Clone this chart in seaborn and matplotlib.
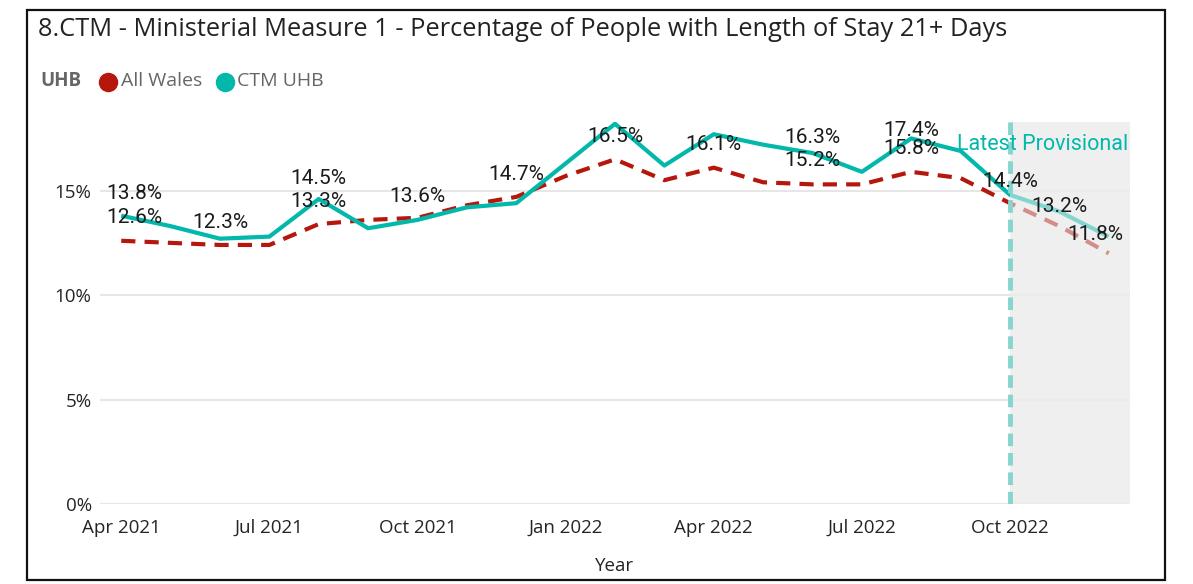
import numpy as np
import pandas as pd
import matplotlib
matplotlib.use("Agg")
import matplotlib.pyplot as plt
import seaborn as sns
from matplotlib.lines import Line2D
from matplotlib.patches import Rectangle
from matplotlib.transforms import blended_transform_factory

# ---------------- data ----------------
months = ["Apr 2021", "May 2021", "Jun 2021", "Jul 2021", "Aug 2021", "Sep 2021",
          "Oct 2021", "Nov 2021", "Dec 2021", "Jan 2022", "Feb 2022", "Mar 2022",
          "Apr 2022", "May 2022", "Jun 2022", "Jul 2022", "Aug 2022", "Sep 2022",
          "Oct 2022", "Nov 2022", "Dec 2022"]
all_wales = [12.6, 12.5, 12.4, 12.4, 13.4, 13.6, 13.7, 14.3, 14.7, 15.7, 16.5, 15.5,
             16.1, 15.4, 15.3, 15.3, 15.9, 15.6, 14.4, 13.3, 12.0]
ctm_uhb = [13.8, 13.3, 12.7, 12.8, 14.6, 13.2, 13.6, 14.2, 14.4, 16.3, 18.2, 16.2,
           17.7, 17.2, 16.8, 15.9, 17.5, 16.9, 14.8, 14.0, 12.8]
series_names = ["All Wales", "CTM UHB"]
tick_months = ["Apr 2021", "Jul 2021", "Oct 2021", "Jan 2022", "Apr 2022", "Jul 2022", "Oct 2022"]
ytick_values = [0, 5, 10, 15]
provisional_start = "Oct 2022"

# data labels: (month, text, series)
label_months = ["Apr 2021", "Apr 2021", "Jun 2021", "Aug 2021", "Aug 2021", "Oct 2021",
                "Dec 2021", "Feb 2022", "Apr 2022", "Jun 2022", "Jun 2022", "Aug 2022",
                "Aug 2022", "Oct 2022", "Nov 2022", "Dec 2022"]
label_texts = ["13.8%", "12.6%", "12.3%", "14.5%", "13.3%", "13.6%", "14.7%", "16.5%",
               "16.1%", "16.3%", "15.2%", "17.4%", "15.8%", "14.4%", "13.2%", "11.8%"]
label_series = ["CTM UHB", "All Wales", "All Wales", "CTM UHB", "All Wales", "All Wales",
                "All Wales", "All Wales", "All Wales", "CTM UHB", "All Wales", "CTM UHB",
                "All Wales", "All Wales", "All Wales", "All Wales"]
# label offsets in pixels (dx, dy) - layout only
label_dx = [13, 13, 0, 0, 0, 0, 0, 0, 0, 0, 0, 0, 0, 0, 0, -13]
label_dy = [22, 23, 22, 20, 23, 21, 22, 23, 23, 16, 24, 8, 23, 22, 20, 19]

# ---------------- frame ----------------
idx = np.arange(len(months))
df = pd.DataFrame({
    "m": np.concatenate([idx, idx]),
    "value": all_wales + ctm_uhb,
    "series": [series_names[0]] * len(months) + [series_names[1]] * len(months),
})

colors = {"All Wales": "#B5170D", "CTM UHB": "#01B8AA"}
W, H = 1193, 584
fig = plt.figure(figsize=(W / 100, H / 100), dpi=100)
sns.set_style("white")
plt.rcParams["font.family"] = ["Open Sans", "DejaVu Sans"]

ax = fig.add_axes([100 / W, 80 / H, 1030 / W, (504 - 121.7) / H])

prov_i = months.index(provisional_start)
xmin, xmax = -0.43, 20.43
ax.axvspan(prov_i, xmax, color="#efefef", zorder=0, lw=0)

sns.lineplot(data=df, x="m", y="value", hue="series", style="series",
             palette=colors, dashes={"All Wales": (3.4, 2.2), "CTM UHB": ""},
             linewidth=3, legend=False, ax=ax, zorder=2)
for ln in ax.get_lines():
    ln.set_solid_capstyle("butt")
    ln.set_dash_capstyle("butt")

# faded provisional region overlay
ax.axvspan(prov_i, xmax, color="#efefef", alpha=0.55, zorder=3, lw=0)
ax.axvline(prov_i, color="#86d5ce", lw=3.5, dashes=(2.6, 1.4), zorder=4)

ax.set_xlim(xmin, xmax)
ax.set_ylim(0, 18.3)
ax.set_yticks(ytick_values)
ax.set_yticklabels([f"{v}%" for v in ytick_values])
ax.set_xticks([months.index(t) for t in tick_months])
ax.set_xticklabels(tick_months)
ax.grid(axis="y", color="#e6e6e6", lw=1.5, zorder=1)
ax.grid(axis="x", visible=False)
ax.set_axisbelow(True)
for s in ax.spines.values():
    s.set_visible(False)
ax.tick_params(axis="both", length=0, labelsize=13.5, colors="#252423")
ax.tick_params(axis="y", pad=6)
ax.tick_params(axis="x", pad=11)
ax.set_xlabel("Year", fontsize=13.5, color="#252423", labelpad=14)
ax.set_ylabel("")

# data labels
vals = {"All Wales": all_wales, "CTM UHB": ctm_uhb}
for m, t, s, dx, dy in zip(label_months, label_texts, label_series, label_dx, label_dy):
    i = months.index(m)
    ax.annotate(t, (i, vals[s][i]), xytext=(dx * 0.72, dy * 0.72), textcoords="offset points",
                ha="center", va="center", fontsize=15, family=["Roboto", "DejaVu Sans"],
                color="#1a1a1a", zorder=6)

trans = blended_transform_factory(ax.transAxes, ax.transData)
ax.text(0.998, 17.2, "Latest Provisional", transform=trans, ha="right", va="center",
        fontsize=15.5, family=["Roboto", "DejaVu Sans"], color="#01B8AA", zorder=6)

# title and legend
fig.text(38 / W, 1 - 29 / H, "8.CTM - Ministerial Measure 1 - Percentage of People with Length of Stay 21+ Days",
         ha="left", va="center", fontsize=18.3, color="#222222")
ly = 1 - 81.5 / H
fig.text(40 / W, ly, "UHB", ha="left", va="center", fontsize=13.5, fontweight="bold", color="#666666")
fig.add_artist(Line2D([107.5 / W], [ly], marker="o", markersize=13, color=colors["All Wales"],
                      lw=0, transform=fig.transFigure))
fig.text(121 / W, ly, "All Wales", ha="left", va="center", fontsize=14, color="#666666")
fig.add_artist(Line2D([225 / W], [ly], marker="o", markersize=13, color=colors["CTM UHB"],
                      lw=0, transform=fig.transFigure))
fig.text(237 / W, ly, "CTM UHB", ha="left", va="center", fontsize=14, color="#666666")

fig.add_artist(Rectangle((27 / W, 4 / H), (1165 - 27) / W, (578 - 8) / H, transform=fig.transFigure,
                         fill=False, edgecolor="#111111", lw=1.6))

fig.savefig("out.png", dpi=100)
